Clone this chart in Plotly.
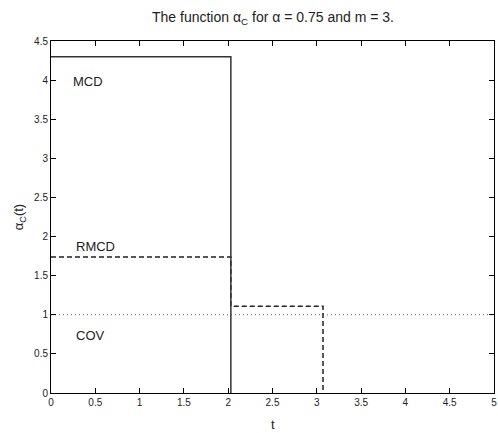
import plotly.graph_objects as go

# Data
mcd_t = [0, 2.03, 2.03]
mcd_a = [4.3, 4.3, 0]
rmcd_t = [0, 2.03, 2.03, 3.07, 3.07]
rmcd_a = [1.74, 1.74, 1.11, 1.11, 0]
cov_t = [0, 5]
cov_a = [1, 1]

labels = ["MCD", "RMCD", "COV"]
label_t = [0.42, 0.50, 0.45]
label_a = [3.98, 1.87, 0.73]

xticks = [0, 0.5, 1, 1.5, 2, 2.5, 3, 3.5, 4, 4.5, 5]
yticks = [0, 0.5, 1, 1.5, 2, 2.5, 3, 3.5, 4, 4.5]

W, H = 498, 433
ml, mr, mt, mb = 51, 1, 41, 40
FONT = "Liberation Sans, Arial"

fig = go.Figure()
fig.add_trace(go.Scatter(x=cov_t, y=cov_a, mode="lines",
                         line=dict(color="#666666", width=1, dash="1px,3px")))
fig.add_trace(go.Scatter(x=rmcd_t, y=rmcd_a, mode="lines",
                         line=dict(color="#222222", width=1.5, dash="5px,3px")))
fig.add_trace(go.Scatter(x=mcd_t, y=mcd_a, mode="lines",
                         line=dict(color="#333333", width=1.5)))

annotations = [
    dict(text=lab, x=tx, y=ty, xref="x", yref="y", showarrow=False,
         xanchor="center", yanchor="middle",
         font=dict(family=FONT, size=13, color="#222222"))
    for lab, tx, ty in zip(labels, label_t, label_a)
]

annotations += [
    dict(text="The function α<sub>C</sub> for α = 0.75 and m = 3.", xref="paper", yref="paper",
         x=0.5, y=1 + 23 / (H - mt - mb), xanchor="center", yanchor="middle", showarrow=False,
         font=dict(size=14, family=FONT, color="#222222")),
    dict(text="t", xref="paper", yref="paper", x=0.5, y=-31 / (H - mt - mb),
         xanchor="center", yanchor="middle", showarrow=False,
         font=dict(size=13, family=FONT, color="#222222")),
    dict(text="α<sub>C</sub>(t)", xref="paper", yref="paper", x=-32 / (W - ml - mr), y=0.5,
         xanchor="center", yanchor="middle", textangle=-90, showarrow=False,
         font=dict(size=13, family=FONT, color="#222222")),
]

axis_common = dict(showgrid=False, zeroline=False, showline=True, linecolor="black",
                   linewidth=1, mirror="ticks", ticks="inside", ticklen=5,
                   tickcolor="black", ticklabeloverflow="allow",
                   tickfont=dict(family=FONT, size=10, color="#222222"))

fig.update_layout(
    width=W, height=H,
    margin=dict(l=ml, r=mr, t=mt, b=mb),
    plot_bgcolor="white", paper_bgcolor="white",
    showlegend=False,
    font=dict(family=FONT, color="#222222"),
    xaxis=dict(range=[0, 5], tickvals=xticks, ticktext=[f"{v:g}" for v in xticks], **axis_common),
    yaxis=dict(range=[0, 4.5], tickvals=yticks, ticktext=[f"{v:g}" for v in yticks], **axis_common),
    annotations=annotations,
)

fig.write_html("out.html")
